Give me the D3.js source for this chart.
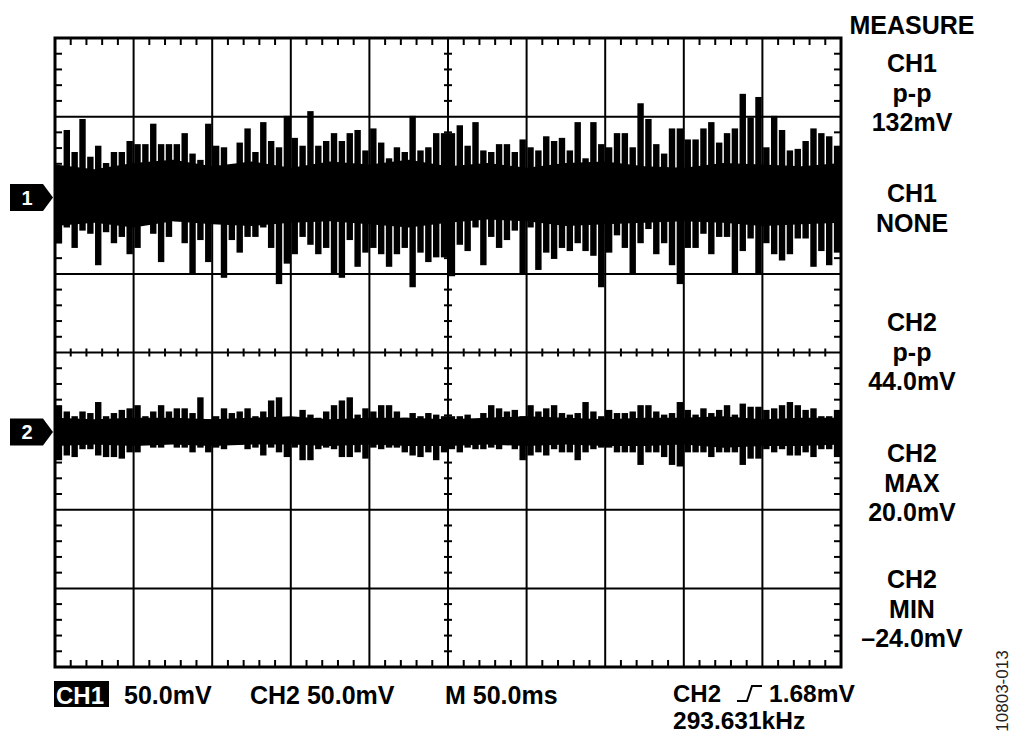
<!DOCTYPE html>
<html>
<head>
<meta charset="utf-8">
<script src="https://cdn.jsdelivr.net/npm/d3@7"></script>
<style>
  body { margin: 0; background: #fff; }
  svg { display: block; }
  text { font-family: "Liberation Sans", Arial, sans-serif; font-weight: bold; fill: #000; }
</style>
</head>
<body>
<svg id="scope" width="1024" height="741"></svg>
<script>
// trace envelopes, mV relative to each channel's ground marker, one value per 0.1 div
const ch1Hi = [19,43,29,50,26,33,22,29,29,36,34,34,47,34,34,34,41,28,24,47,33,32,13,35,44,29,48,36,32,52,38,33,55,33,
  36,41,36,41,43,30,44,35,25,32,29,52,30,32,41,41,41,46,33,48,30,29,34,34,29,37,32,30,39,36,38,30,48,
  25,48,34,32,41,41,32,60,50,34,28,44,44,37,37,44,48,35,41,44,66,51,64,32,52,43,30,31,36,44,41,39,33];
const ch1Lo = [-29,-19,-32,-21,-23,-43,-22,-29,-25,-36,-32,-17,-23,-41,-25,-15,-29,-48,-27,-41,-15,-51,-27,-35,-25,-25,-19,-32,-55,-42,-36,-25,-30,-36,
  -32,-48,-51,-27,-44,-35,-32,-36,-44,-36,-32,-57,-35,-41,-38,-38,-50,-30,-34,-19,-43,-25,-32,-27,-21,-48,-19,-46,-35,-39,-32,-34,-29,
  -34,-37,-57,-35,-24,-32,-48,-29,-20,-36,-29,-43,-55,-32,-32,-23,-36,-25,-25,-48,-34,-26,-48,-29,-36,-40,-36,-26,-26,-44,-34,-43,-35];
// solid core of the trace, one value per 0.5 div
const ch1CoreHi = [21,18,22,24,20,23,19,23,21,24,20,22,19,22,23,20,19,22,21,20,22];
const ch1CoreLo = [-18,-16,-19,-15,-17,-18,-16,-15,-17,-19,-16,-14,-15,-18,-17,-16,-15,-16,-18,-17,-16];

const ch2Hi = [17,13,10,13,12,19,10,12,14,15,17,10,13,17,13,15,15,12,22,8,10,15,12,13,15,10,13,20,22,9,6,14,11,9,13,17,20,22,11,15,13,17,17,13,9,12,10,12,11,10,
  10,10,11,8,12,17,15,13,14,10,17,13,15,17,12,11,12,19,13,10,14,12,12,13,17,17,13,11,12,19,14,11,15,12,14,17,11,18,16,16,14,15,17,19,17,14,15,10,10,14];
const ch2Lo = [-18,-15,-16,-11,-11,-15,-16,-16,-17,-13,-13,-8,-10,-10,-6,-10,-10,-13,-10,-13,-10,-11,-8,-8,-11,-10,-15,-10,-13,-16,-10,-18,-18,-11,-10,-11,-16,-16,-13,-17,-10,-11,-10,-10,-13,-15,-16,-13,-18,-13,
  -11,-13,-10,-11,-11,-10,-11,-8,-11,-18,-15,-13,-15,-11,-13,-13,-18,-13,-11,-10,-10,-13,-13,-13,-21,-13,-13,-16,-21,-22,-13,-13,-13,-16,-13,-13,-13,-21,-17,-17,-11,-13,-11,-15,-15,-13,-16,-11,-11,-16];
const ch2CoreHi = [9,8,9,9,8,9,10,8,9,9,8,9,10,9,8,9,9,10,8,9,9];
const ch2CoreLo = [-9,-8,-9,-8,-9,-8,-8,-9,-8,-9,-9,-8,-9,-8,-9,-9,-8,-10,-9,-9,-8];

// readouts
const measureTitle = "MEASURE";
const measureGroups = [
  ["CH1", "p-p", "132mV"],
  ["CH1", "NONE"],
  ["CH2", "p-p", "44.0mV"],
  ["CH2", "MAX", "20.0mV"],
  ["CH2", "MIN", "\u201324.0mV"]
];
const bottomLabels = ["50.0mV", "CH2 50.0mV", "M 50.0ms"];
const triggerLabel = ["CH2", "1.68mV", "293.631kHz"];
const figureId = "10803-013";

// scope settings
const mVperDiv = 50;
const channels = [
  { name: "1", pos: 1.97, hi: ch1Hi, lo: ch1Lo, coreHi: ch1CoreHi, coreLo: ch1CoreLo },
  { name: "2", pos: -1.01, hi: ch2Hi, lo: ch2Lo, coreHi: ch2CoreHi, coreLo: ch2CoreLo }
];

const svg = d3.select("#scope");
const plotL = 55, plotR = 841, plotT = 38, plotB = 667;

const x = d3.scaleLinear().domain([0, 10]).range([plotL, plotR]);
const y = d3.scaleLinear().domain([-4, 4]).range([plotB, plotT]);

// traces
const traceG = svg.append("g");
channels.forEach(ch => {
  const toY = v => y(ch.pos + v / mVperDiv);
  const core = ch.coreHi.map((h, i) => ({ t: i * 0.5, h: h, l: ch.coreLo[i] }));
  traceG.append("path")
    .datum(core)
    .attr("d", d3.area().x(d => x(d.t)).y0(d => toY(d.l)).y1(d => toY(d.h)))
    .attr("fill", "#000");

  const slots = ch.hi.map((h, i) => ({ t: (i + 0.5) * 0.1, h: h, l: ch.lo[i] }));
  traceG.selectAll(null)
    .data(slots)
    .join("rect")
    .attr("x", d => Math.max(plotL, x(d.t) - 3.2))
    .attr("width", 6.4)
    .attr("y", d => toY(d.h))
    .attr("height", d => toY(d.l) - toY(d.h))
    .attr("fill", "#000");
});

// graticule
const grid = svg.append("g").attr("stroke", "#000").attr("stroke-width", 2);
d3.range(1, 10).forEach(i => {
  grid.append("line").attr("x1", x(i)).attr("x2", x(i)).attr("y1", plotT).attr("y2", plotB);
});
d3.range(-3, 4).forEach(j => {
  grid.append("line").attr("x1", plotL).attr("x2", plotR).attr("y1", y(j)).attr("y2", y(j));
});
d3.range(1, 50).filter(k => k % 5 !== 0).forEach(k => {
  const xx = x(k / 5);
  grid.append("line").attr("x1", xx).attr("x2", xx).attr("y1", plotT).attr("y2", plotT + 7);
  grid.append("line").attr("x1", xx).attr("x2", xx).attr("y1", plotB).attr("y2", plotB - 7);
  grid.append("line").attr("x1", xx).attr("x2", xx).attr("y1", y(0) - 4).attr("y2", y(0) + 4);
});
d3.range(-19, 20).filter(k => k % 5 !== 0).forEach(k => {
  const yy = y(k / 5);
  grid.append("line").attr("x1", plotL).attr("x2", plotL + 7).attr("y1", yy).attr("y2", yy);
  grid.append("line").attr("x1", plotR).attr("x2", plotR - 7).attr("y1", yy).attr("y2", yy);
  grid.append("line").attr("x1", x(5) - 4).attr("x2", x(5) + 4).attr("y1", yy).attr("y2", yy);
});
svg.append("rect")
  .attr("x", plotL).attr("y", plotT)
  .attr("width", plotR - plotL).attr("height", plotB - plotT)
  .attr("fill", "none").attr("stroke", "#000").attr("stroke-width", 3);

// channel ground markers
channels.forEach(ch => {
  const m = y(ch.pos);
  svg.append("path")
    .attr("d", `M10,${m - 13.5}L43,${m - 13.5}L53,${m}L43,${m + 13.5}L10,${m + 13.5}Z`)
    .attr("fill", "#000");
  svg.append("text")
    .attr("x", 27).attr("y", m + 7)
    .attr("text-anchor", "middle")
    .style("font-size", "20px").style("fill", "#fff")
    .text(ch.name);
});

// measurement panel
const panelX = 912;
svg.append("text").attr("x", panelX).attr("y", 34).attr("text-anchor", "middle")
  .style("font-size", "25px").text(measureTitle);
const groupTops = [72, 202, 331, 462, 588];
measureGroups.forEach((g, gi) => {
  g.forEach((s, li) => {
    svg.append("text")
      .attr("x", panelX).attr("y", groupTops[gi] + li * 29.5)
      .attr("text-anchor", "middle")
      .style("font-size", "25px")
      .text(s);
  });
});

// bottom status line
svg.append("rect").attr("x", 54).attr("y", 681).attr("width", 55).attr("height", 26).attr("fill", "#000");
svg.append("text").attr("x", 56).attr("y", 704).style("font-size", "24px").style("fill", "#fff").text("CH1");
const bottomX = [124, 250, 445];
bottomLabels.forEach((s, i) => {
  svg.append("text").attr("x", bottomX[i]).attr("y", 704).style("font-size", "25px").text(s);
});
svg.append("text").attr("x", 673).attr("y", 702).style("font-size", "24px").text(triggerLabel[0]);
svg.append("path")
  .attr("d", "M737,701L747,701L752,686L762,686")
  .attr("fill", "none").attr("stroke", "#000").attr("stroke-width", 2);
svg.append("text").attr("x", 769).attr("y", 702).style("font-size", "24.5px").text(triggerLabel[1]);
svg.append("text").attr("x", 673).attr("y", 729).style("font-size", "24.5px").text(triggerLabel[2]);

svg.append("text")
  .attr("transform", "translate(1008,691) rotate(-90)")
  .attr("text-anchor", "middle")
  .style("font-size", "17px").style("font-weight", "normal").style("fill", "#222")
  .text(figureId);
</script>
</body>
</html>
